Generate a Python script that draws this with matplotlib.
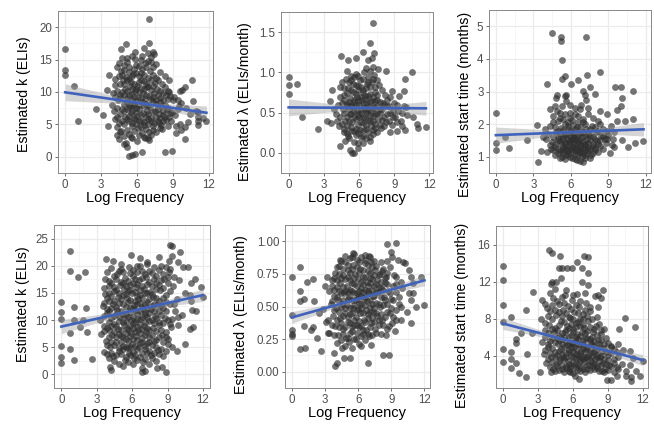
import numpy as np
import matplotlib
matplotlib.use("Agg")
import matplotlib.pyplot as plt

plt.rcParams["font.family"] = ["Liberation Sans", "DejaVu Sans"]

# (log frequency, estimate) pairs, one list per panel
K_TOP = [
    (0, 16.6), (0, 13.4), (0, 12.6), (0.7, 11.0), (1.1, 5.6), (2.6, 7.3), (3.2, 6.4), (3.5, 10.3),
    (3.6, 4.7), (3.7, 12.7), (7.0, 21.2), (7.0, 17.6), (5.1, 17.4), (4.7, 16.6), (5.8, 16.2),
    (7.3, 16.2), (7.4, 15.9), (5.2, 15.2), (6.4, 15.6), (4.5, 14.4), (7.2, 14.7), (5.3, 0.2),
    (5.6, 0.3), (5.8, 0.4), (6.4, 0.8), (8.3, 0.7), (8.9, 0.85), (4.9, 2.0), (5.1, 2.1), (5.2, 1.5),
    (4.5, 2.7), (5.6, 2.9), (6.9, 2.9), (7.0, 2.6), (6.4, 3.7), (8.1, 4.3), (7.3, 4.2), (10.6, 11.8),
    (10.0, 10.7), (9.8, 10.3), (9.6, 10.2), (8.7, 10.0), (10.7, 8.6), (11.1, 6.9), (11.1, 6.2),
    (11.1, 5.5), (11.1, 4.9), (11.8, 5.5), (10.0, 2.7), (9.3, 3.6), (9.7, 4.1), (10.0, 4.6),
    (10.3, 5.3), (9.6, 5.0), (9.3, 4.8), (9.0, 8.8), (9.4, 8.7), (9.7, 8.3), (9.4, 7.4), (8.9, 6.9),
    (8.6, 7.6), (8.2, 6.4), (8.7, 6.1), (8.4, 5.7), (7.8, 5.2),
    (4.6, 9.5), (4.8, 11.8), (4.9, 8.2), (5.0, 6.1), (5.0, 10.4), (5.1, 12.3), (5.2, 7.3), (5.2, 9.1),
    (5.3, 5.6), (5.3, 13.1), (5.4, 8.0), (5.4, 10.9), (5.5, 6.7), (5.5, 11.6), (5.6, 9.7), (5.6, 4.8),
    (5.7, 12.8), (5.7, 7.8), (5.8, 10.2), (5.8, 5.9), (5.9, 8.6), (5.9, 14.1), (6.0, 6.3), (6.0, 11.0),
    (6.1, 9.3), (6.1, 4.4), (6.2, 12.4), (6.2, 7.4), (6.3, 10.6), (6.3, 5.5), (6.4, 8.4), (6.4, 13.5),
    (6.5, 9.9), (6.5, 6.8), (6.6, 11.7), (6.6, 4.9), (6.7, 8.9), (6.7, 14.5), (6.8, 7.1), (6.8, 10.8),
    (6.9, 5.8), (6.9, 12.1), (7.0, 9.4), (7.0, 3.9), (7.1, 13.2), (7.1, 7.7), (7.2, 10.3), (7.2, 6.0),
    (7.3, 8.6), (7.3, 12.7), (7.4, 5.2), (7.4, 9.8), (7.5, 11.4), (7.5, 7.0), (7.6, 8.2), (7.7, 10.5),
    (7.8, 6.6), (7.9, 9.1), (8.0, 7.9), (8.1, 11.2), (8.2, 8.7), (8.4, 9.6), (8.5, 7.2), (8.6, 10.2),
    (3.9, 8.0), (4.0, 9.9), (4.1, 7.0), (4.2, 11.1), (4.3, 6.2), (4.4, 8.8), (4.5, 12.4), (4.5, 5.2),
    (4.3, 3.4), (4.7, 4.0), (4.7, 13.3), (4.9, 14.2), (5.5, 3.1), (6.0, 2.4), (5.8, 15.1), (6.7, 2.9),
    (6.3, 15.0), (6.9, 16.0), (7.6, 14.3), (7.9, 13.1), (8.3, 12.4), (8.0, 4.9), (8.8, 5.5), (9.1, 9.2),
    (9.2, 6.5), (8.7, 11.8), (9.5, 7.9), (10.1, 7.6), (10.4, 6.6), (10.9, 7.1), (11.5, 6.0),
]
# dense core of the same panel, as (x, [y, ...]) columns
K_TOP_CORE = [
    (4.15, [5.8, 9.2, 12.0]), (4.35, [4.6, 7.6, 10.1, 13.8]), (4.55, [3.8, 6.6, 9.0, 11.3]),
    (4.75, [5.6, 7.4, 10.0, 12.6, 15.2]), (4.95, [3.2, 5.0, 7.0, 9.6, 11.2, 13.4]),
    (5.15, [4.2, 5.9, 8.5, 10.1, 11.8, 14.6]), (5.35, [3.5, 6.3, 7.7, 9.5, 12.0, 13.9]),
    (5.55, [5.2, 7.1, 8.8, 10.4, 12.5, 15.5]), (5.75, [4.0, 6.0, 8.2, 9.3, 11.2, 13.6]),
    (5.95, [5.0, 6.9, 7.6, 10.5, 12.9]), (6.15, [3.3, 5.6, 8.0, 10.0, 11.5, 14.0]),
    (6.35, [4.6, 6.4, 9.0, 11.9, 13.0]), (6.55, [3.0, 5.3, 7.9, 10.4, 12.6, 16.8]),
    (6.75, [4.3, 6.2, 8.2, 9.6, 11.3, 13.9]), (6.95, [5.1, 6.6, 8.0, 10.9, 14.8]),
    (7.15, [3.4, 5.5, 8.9, 11.8, 15.4]), (7.35, [4.8, 6.9, 9.3, 10.9, 13.8]),
    (7.55, [3.9, 6.2, 8.8, 12.2]), (7.75, [5.5, 7.4, 9.5, 11.9]), (7.95, [4.4, 6.0, 8.4, 10.2]),
    (8.15, [5.6, 7.0, 9.8]), (8.35, [6.2, 8.0, 10.8]), (8.55, [4.8, 8.9]), (8.75, [6.7, 9.4]),
]

LAM_TOP = [
    (0, 0.94), (0, 0.84), (0, 0.73), (0.7, 0.85), (1.1, 0.44), (2.5, 0.30), (3.3, 0.39), (3.5, 0.65),
    (3.7, 0.78), (3.6, 0.37), (4.5, 1.20), (5.1, 1.15), (5.7, 1.18), (6.3, 1.25), (7.2, 1.61),
    (6.9, 1.37), (7.1, 1.18), (7.3, 1.24), (6.8, 1.15), (7.2, 1.07), (7.6, 1.04), (8.3, 1.02),
    (10.5, 1.01), (9.9, 0.92), (9.8, 0.77), (9.4, 0.71), (8.8, 0.77), (8.6, 0.69), (10.0, 0.57),
    (10.6, 0.44), (10.9, 0.36), (11.0, 0.31), (11.7, 0.32), (9.9, 0.29), (9.2, 0.27), (8.6, 0.26),
    (4.4, 0.08), (4.8, 0.15), (5.2, 0.04), (5.4, 0.0), (5.6, 0.0), (5.9, 0.06), (6.3, 0.12),
    (6.9, 0.15), (6.3, 0.21), (5.1, 0.21), (4.7, 0.26), (7.2, 0.24),
    (4.6, 0.55), (4.7, 0.72), (4.8, 0.40), (4.9, 0.92), (5.0, 0.61), (5.0, 0.33), (5.1, 0.80),
    (5.2, 0.48), (5.2, 0.68), (5.3, 0.27), (5.3, 0.95), (5.4, 0.57), (5.4, 0.38), (5.5, 0.75),
    (5.5, 0.86), (5.6, 0.45), (5.6, 0.63), (5.7, 0.22), (5.7, 0.98), (5.8, 0.52), (5.8, 0.70),
    (5.9, 0.35), (5.9, 0.83), (6.0, 0.59), (6.0, 0.44), (6.1, 0.90), (6.1, 0.28), (6.2, 0.66),
    (6.2, 0.50), (6.3, 0.78), (6.3, 0.37), (6.4, 0.56), (6.4, 1.00), (6.5, 0.43), (6.5, 0.71),
    (6.6, 0.62), (6.6, 0.30), (6.7, 0.85), (6.7, 0.49), (6.8, 0.58), (6.8, 0.94), (6.9, 0.40),
    (6.9, 0.73), (7.0, 0.53), (7.0, 0.33), (7.1, 0.88), (7.1, 0.64), (7.2, 0.46), (7.3, 0.97),
    (7.3, 0.57), (7.4, 0.36), (7.4, 0.75), (7.5, 0.50), (7.5, 0.66), (7.6, 0.42), (7.7, 0.84),
    (7.8, 0.55), (7.9, 0.31), (8.0, 0.62), (8.1, 0.45), (8.2, 0.72), (8.3, 0.38), (8.4, 0.58),
    (8.6, 0.50), (8.8, 0.35), (9.0, 0.62), (9.1, 0.44), (9.3, 0.52), (9.6, 0.40), (9.8, 0.58),
    (10.1, 0.47), (4.2, 0.60), (4.0, 0.48), (4.3, 0.33), (4.4, 0.82), (3.9, 0.55), (4.1, 0.40),
]
LAM_TOP_CORE = [
    (4.35, [0.45, 0.70]), (4.55, [0.36, 0.62, 0.88]), (4.75, [0.30, 0.50, 0.66, 0.80]),
    (4.95, [0.25, 0.45, 0.58, 0.74, 1.02]), (5.15, [0.18, 0.40, 0.54, 0.63, 0.88]),
    (5.35, [0.32, 0.48, 0.60, 0.78, 0.90]), (5.55, [0.14, 0.27, 0.52, 0.66, 0.94]),
    (5.75, [0.30, 0.42, 0.60, 0.73, 0.84]), (5.95, [0.12, 0.25, 0.47, 0.66, 0.78, 0.96]),
    (6.15, [0.20, 0.38, 0.53, 0.70, 0.82]), (6.35, [0.28, 0.45, 0.62, 0.74, 0.92]),
    (6.55, [0.18, 0.35, 0.52, 0.67, 0.80, 1.05]), (6.75, [0.26, 0.41, 0.55, 0.71, 0.88]),
    (6.95, [0.20, 0.47, 0.63, 0.82, 1.02]), (7.15, [0.28, 0.40, 0.56, 0.69, 0.92]),
    (7.35, [0.31, 0.48, 0.65, 0.82]), (7.55, [0.26, 0.58, 0.72, 0.90]), (7.75, [0.35, 0.49, 0.63]),
    (7.95, [0.41, 0.55, 0.78]), (8.15, [0.33, 0.60]), (8.35, [0.48, 0.66]), (8.55, [0.40, 0.58]),
    (8.85, [0.45, 0.52]), (9.25, [0.38, 0.60]), (9.65, [0.33, 0.49]),
]

START_TOP = [
    (0, 2.34), (0, 1.41), (0, 1.21), (0.7, 1.61), (1.07, 1.28), (2.5, 1.52), (3.3, 1.96), (3.4, 0.83),
    (3.6, 1.19), (4.1, 1.14), (4.1, 3.23), (4.5, 4.80), (5.2, 4.66), (5.2, 4.55), (5.3, 3.97),
    (5.5, 3.48), (5.3, 3.39), (4.9, 2.90), (4.8, 2.79), (5.6, 2.90), (6.0, 3.23), (6.6, 3.35),
    (7.3, 3.52), (7.2, 4.66), (8.3, 3.61), (7.5, 3.14), (7.0, 3.03), (7.9, 2.93), (9.5, 3.14),
    (10.0, 3.14), (10.1, 2.81), (10.0, 2.54), (9.7, 2.42), (11.0, 3.03), (11.0, 2.16), (11.8, 1.47),
    (11.1, 1.41), (10.6, 1.29), (10.1, 1.52), (9.4, 1.54), (9.1, 1.12), (8.7, 1.55), (8.9, 2.30),
    (8.3, 2.39), (9.7, 2.09), (10.3, 2.11),
    (4.5, 1.45), (4.6, 2.05), (4.7, 1.30), (4.8, 1.75), (4.9, 2.40), (5.0, 1.10), (5.0, 1.58),
    (5.1, 2.20), (5.2, 1.38), (5.2, 1.88), (5.3, 0.98), (5.3, 2.55), (5.4, 1.62), (5.4, 1.22),
    (5.5, 2.00), (5.5, 1.45), (5.6, 1.05), (5.6, 2.70), (5.7, 1.70), (5.7, 1.33), (5.8, 1.95),
    (5.8, 1.15), (5.9, 2.35), (5.9, 1.52), (6.0, 1.25), (6.0, 1.80), (6.1, 0.95), (6.1, 2.12),
    (6.2, 1.42), (6.2, 1.65), (6.3, 1.08), (6.3, 2.48), (6.4, 1.55), (6.4, 1.28), (6.5, 1.90),
    (6.5, 0.90), (6.6, 1.48), (6.6, 2.25), (6.7, 1.18), (6.7, 1.72), (6.8, 1.35), (6.8, 2.60),
    (6.9, 1.02), (6.9, 1.60), (7.0, 0.85), (7.0, 2.05), (7.1, 1.40), (7.1, 1.22), (7.2, 1.85),
    (7.2, 2.75), (7.3, 1.12), (7.3, 1.55), (7.4, 2.30), (7.4, 1.30), (7.5, 1.68), (7.6, 1.05),
    (7.7, 1.95), (7.8, 1.40), (7.9, 1.20), (8.0, 1.75), (8.1, 1.48), (8.2, 2.10), (8.3, 1.32),
    (8.4, 1.62), (8.6, 1.85), (8.8, 1.42), (9.0, 1.68), (9.2, 1.95), (9.3, 1.35), (4.2, 1.70),
    (4.0, 1.55), (4.3, 2.45), (3.9, 1.85), (4.4, 1.25), (3.8, 1.60),
]
START_TOP_CORE = [
    (4.35, [1.35, 1.95]), (4.55, [1.20, 1.60, 2.25]), (4.75, [1.05, 1.40, 1.90, 2.55]),
    (4.95, [1.25, 1.50, 1.78, 2.10]), (5.15, [0.95, 1.18, 1.48, 1.70, 2.35]),
    (5.35, [1.12, 1.30, 1.55, 1.82, 2.15]), (5.55, [0.92, 1.25, 1.40, 1.66, 2.30, 2.85]),
    (5.75, [1.08, 1.22, 1.50, 1.85, 2.05]), (5.95, [0.98, 1.32, 1.45, 1.62, 2.20, 2.60]),
    (6.15, [1.15, 1.30, 1.55, 1.72, 1.98]), (6.35, [0.92, 1.20, 1.38, 1.60, 1.85, 2.30]),
    (6.55, [1.05, 1.25, 1.42, 1.68, 2.05]), (6.75, [0.88, 1.10, 1.30, 1.52, 1.90, 2.45]),
    (6.95, [1.15, 1.28, 1.45, 1.75, 2.15]), (7.15, [0.95, 1.05, 1.35, 1.62, 2.00, 2.90]),
    (7.35, [1.20, 1.42, 1.70, 2.50]), (7.55, [0.95, 1.25, 1.50, 1.85]),
    (7.75, [1.10, 1.32, 1.60, 2.20]), (7.95, [1.28, 1.55, 1.90]), (8.15, [1.15, 1.40, 1.80]),
    (8.35, [1.50, 2.00]), (8.55, [1.25, 1.62]), (8.85, [1.55, 1.78]), (9.45, [1.30, 1.75]),
]

K_BOT = [
    (0, 13.3), (0, 11.5), (0, 10.2), (0, 5.3), (0, 3.2), (0, 2.1), (0.7, 22.8), (0.7, 19.1), (0.7, 7.7),
    (0.7, 4.7), (1.1, 10.1), (1.1, 12.4), (1.1, 2.7), (1.4, 18.0), (2.0, 18.8), (2.1, 12.2), (2.2, 7.8),
    (1.8, 10.1), (1.6, 8.8), (2.6, 2.8), (3.3, 10.1), (3.4, 7.5), (3.8, 21.2), (4.4, 20.9), (4.0, 16.2),
    (3.7, 17.5), (4.1, 1.3), (4.2, 0.9), (3.9, 3.8), (6.8, 0.5), (7.1, 0.6), (8.1, 1.2), (8.9, 0.5),
    (8.5, 1.4), (5.9, 21.9), (6.7, 21.4), (8.3, 21.7), (9.2, 23.9), (9.4, 23.7), (10.1, 22.5),
    (9.4, 21.8), (9.1, 20.9), (9.9, 20.7), (10.3, 19.8), (10.7, 19.8), (11.0, 16.9), (11.3, 17.5),
    (10.9, 14.7), (11.0, 13.5), (11.1, 11.9), (11.4, 11.7), (11.2, 8.8), (10.9, 8.4), (11.8, 16.0),
    (12.0, 14.3), (9.9, 9.1), (9.9, 10.5), (9.4, 10.2), (8.9, 6.9), (9.8, 4.3), (9.4, 5.1), (10.5, 5.6),
    (3.5, 12.5), (3.6, 9.0), (3.7, 14.8), (3.8, 6.2), (3.9, 11.3), (4.0, 8.1), (4.0, 13.6), (4.1, 5.0),
    (4.2, 16.9), (4.2, 10.4), (4.3, 7.2), (4.4, 12.9), (4.4, 3.3), (4.5, 15.3), (4.5, 9.3), (4.6, 6.0),
    (4.7, 18.4), (4.7, 11.8), (4.8, 8.4), (4.8, 14.2), (4.9, 4.4), (5.0, 16.4), (5.0, 10.6), (5.1, 7.0),
    (5.1, 19.4), (5.2, 12.9), (5.2, 5.3), (5.3, 15.7), (5.3, 9.1), (5.4, 2.6), (5.4, 17.8), (5.5, 11.0),
    (5.5, 6.5), (5.6, 14.0), (5.6, 8.6), (5.7, 19.8), (5.7, 3.9), (5.8, 12.2), (5.8, 16.5), (5.9, 7.6),
    (5.9, 10.0), (6.0, 5.6), (6.0, 14.9), (6.1, 18.1), (6.1, 9.4), (6.2, 12.7), (6.2, 3.0), (6.3, 7.1),
    (6.3, 16.0), (6.4, 11.3), (6.4, 20.0), (6.5, 8.2), (6.5, 13.8), (6.6, 5.0), (6.6, 17.3), (6.7, 10.2),
    (6.7, 14.6), (6.8, 6.7), (6.8, 19.0), (6.9, 12.1), (6.9, 2.2), (7.0, 9.0), (7.0, 15.8), (7.1, 4.6),
    (7.1, 11.4), (7.2, 17.9), (7.2, 7.8), (7.3, 13.3), (7.3, 20.4), (7.4, 9.9), (7.4, 5.9), (7.5, 15.1),
    (7.6, 12.0), (7.6, 3.6), (7.7, 18.6), (7.8, 8.5), (7.8, 14.3), (7.9, 10.8), (8.0, 6.4), (8.0, 16.9),
    (8.1, 12.8), (8.2, 4.5), (8.3, 19.3), (8.3, 9.6), (8.4, 15.5), (8.5, 7.3), (8.6, 12.3), (8.7, 17.6),
    (8.8, 10.4), (8.9, 14.6), (9.0, 5.6), (9.1, 18.8), (9.2, 12.9), (9.3, 8.8), (9.5, 16.2), (9.6, 11.6),
    (9.8, 13.9), (10.0, 17.4), (10.2, 11.0), (10.5, 15.0),
]
K_BOT_CORE = [
    (3.65, [4.2, 7.9, 10.8, 13.1, 15.9]), (3.85, [5.4, 8.6, 12.0, 14.1, 18.8]),
    (4.05, [3.0, 6.8, 9.6, 11.6, 15.0, 17.2]), (4.25, [4.0, 6.0, 8.9, 12.3, 14.4, 19.6]),
    (4.45, [2.4, 5.5, 7.8, 10.8, 13.6, 16.1, 18.2]), (4.65, [3.6, 6.9, 8.9, 11.1, 12.4, 15.6, 17.6]),
    (4.85, [2.0, 4.8, 7.4, 9.9, 13.1, 15.0, 19.0]), (5.05, [3.8, 5.9, 8.1, 11.7, 13.9, 17.1, 20.3]),
    (5.25, [1.6, 4.6, 6.9, 9.6, 10.9, 14.6, 16.9, 18.9]), (5.45, [3.2, 5.1, 7.6, 9.9, 12.4, 14.8, 16.2]),
    (5.65, [2.2, 4.9, 6.2, 8.1, 10.6, 13.3, 15.3, 17.2]), (5.85, [3.5, 5.0, 7.1, 9.0, 11.4, 13.7, 15.6, 18.7]),
    (6.05, [1.9, 4.2, 6.6, 8.6, 10.6, 12.2, 16.9, 19.2]), (6.25, [3.6, 5.3, 7.8, 9.7, 11.8, 13.5, 15.1, 17.6]),
    (6.45, [2.6, 4.6, 6.4, 8.7, 10.2, 12.9, 14.5, 16.6, 18.8]),
    (6.65, [3.2, 5.7, 7.6, 9.2, 11.6, 13.1, 15.5, 19.9]),
    (6.85, [1.2, 4.0, 6.0, 8.3, 10.5, 12.4, 14.0, 16.2, 17.8]),
    (7.05, [2.8, 5.2, 7.2, 9.6, 10.9, 13.0, 14.9, 18.4]), (7.25, [3.9, 5.8, 8.6, 10.6, 12.2, 15.0, 16.7, 20.6]),
    (7.45, [2.0, 4.3, 6.8, 8.2, 11.3, 13.8, 17.0, 19.1]), (7.65, [3.0, 5.4, 7.3, 10.1, 12.6, 14.8, 16.3]),
    (7.85, [4.0, 6.1, 9.4, 11.7, 13.0, 17.5, 19.7]), (8.05, [2.5, 5.1, 8.0, 10.3, 14.0, 15.8, 18.2]),
    (8.25, [3.8, 6.9, 9.1, 11.6, 13.6, 16.4]), (8.45, [4.7, 8.2, 10.9, 12.7, 17.3, 20.0]),
    (8.65, [3.3, 6.0, 9.4, 14.1, 15.9, 18.5]), (8.85, [4.4, 7.8, 11.6, 13.3, 19.8]),
    (9.05, [6.6, 10.0, 16.8, 18.0]), (9.25, [9.3, 15.3, 19.4]), (9.55, [13.0, 17.9]),
]

LAM_BOT = [
    (0, 0.725), (0, 0.433), (0, 0.32), (0, 0.29), (0, 0.275), (0.7, 0.80), (0.7, 0.62), (0.7, 0.54),
    (0.7, 0.175), (1.1, 0.56), (1.1, 0.35), (1.15, 0.185), (1.4, 0.69), (1.9, 0.71), (2.0, 0.545),
    (1.9, 0.345), (1.7, 0.32), (2.3, 0.26), (2.65, 0.16), (2.5, 0.45), (3.2, 0.725), (3.25, 0.40),
    (3.4, 0.30), (3.8, 0.14), (3.9, 0.04), (4.1, 0.07), (4.5, 0.18), (4.75, 0.105), (5.3, 0.105),
    (5.2, 0.226), (6.3, 0.20), (6.9, 0.07), (7.2, 0.205), (8.25, 0.125), (8.8, 0.125), (8.6, 0.85),
    (8.6, 0.98), (9.4, 0.99), (9.0, 0.92), (9.1, 0.88), (9.6, 0.86), (10.1, 0.84), (10.2, 0.83),
    (10.6, 0.78), (10.8, 0.725), (11.7, 0.725), (11.0, 0.68), (11.0, 0.60), (10.6, 0.60), (10.8, 0.55),
    (11.2, 0.50), (12.0, 0.51), (10.4, 0.455), (9.9, 0.395), (10.8, 0.374), (9.4, 0.40), (9.1, 0.37),
    (9.3, 0.31), (8.5, 0.28), (9.0, 0.49), (9.7, 0.52), (9.7, 0.57), (10.0, 0.64), (9.4, 0.67),
    (9.2, 0.74), (8.5, 0.73), (8.2, 0.77), (7.0, 0.89), (6.6, 0.895), (5.5, 0.91), (5.4, 0.88),
    (4.4, 0.856),
    (3.4, 0.62), (3.5, 0.52), (3.6, 0.70), (3.7, 0.43), (3.8, 0.58), (3.9, 0.35), (3.9, 0.76),
    (4.0, 0.49), (4.1, 0.65), (4.2, 0.28), (4.2, 0.55), (4.3, 0.81), (4.4, 0.41), (4.4, 0.68),
    (4.5, 0.52), (4.6, 0.33), (4.6, 0.74), (4.7, 0.60), (4.8, 0.45), (4.8, 0.84), (4.9, 0.26),
    (5.0, 0.66), (5.0, 0.51), (5.1, 0.38), (5.1, 0.78), (5.2, 0.57), (5.3, 0.44), (5.3, 0.70),
    (5.4, 0.31), (5.4, 0.62), (5.5, 0.82), (5.5, 0.49), (5.6, 0.36), (5.6, 0.67), (5.7, 0.55),
    (5.7, 0.75), (5.8, 0.42), (5.8, 0.25), (5.9, 0.60), (5.9, 0.86), (6.0, 0.48), (6.0, 0.71),
    (6.1, 0.34), (6.1, 0.58), (6.2, 0.79), (6.2, 0.45), (6.3, 0.64), (6.3, 0.52), (6.4, 0.29),
    (6.4, 0.73), (6.5, 0.56), (6.5, 0.40), (6.6, 0.83), (6.6, 0.63), (6.7, 0.47), (6.7, 0.32),
    (6.8, 0.69), (6.8, 0.54), (6.9, 0.77), (6.9, 0.41), (7.0, 0.60), (7.0, 0.27), (7.1, 0.50),
    (7.1, 0.72), (7.2, 0.37), (7.2, 0.84), (7.3, 0.58), (7.3, 0.46), (7.4, 0.66), (7.5, 0.33),
    (7.5, 0.78), (7.6, 0.53), (7.7, 0.43), (7.7, 0.70), (7.8, 0.61), (7.9, 0.36), (8.0, 0.75),
    (8.0, 0.50), (8.1, 0.64), (8.2, 0.40), (8.3, 0.57), (8.4, 0.68), (8.6, 0.46), (8.7, 0.62),
    (8.8, 0.35), (9.0, 0.56), (2.8, 0.48), (3.0, 0.66), (3.1, 0.38), (3.3, 0.30),
]
LAM_BOT_CORE = [
    (3.65, [0.36, 0.54, 0.66]), (3.85, [0.28, 0.47, 0.63, 0.72]), (4.05, [0.22, 0.40, 0.57, 0.70, 0.80]),
    (4.25, [0.34, 0.46, 0.62, 0.75]), (4.45, [0.24, 0.37, 0.50, 0.60, 0.72, 0.85]),
    (4.65, [0.29, 0.43, 0.55, 0.65, 0.79]), (4.85, [0.20, 0.34, 0.49, 0.62, 0.71, 0.89]),
    (5.05, [0.26, 0.42, 0.56, 0.61, 0.73, 0.82]), (5.25, [0.30, 0.37, 0.49, 0.63, 0.76, 0.87]),
    (5.45, [0.18, 0.34, 0.45, 0.55, 0.68, 0.79]), (5.65, [0.25, 0.40, 0.51, 0.60, 0.72, 0.90]),
    (5.85, [0.30, 0.36, 0.47, 0.56, 0.66, 0.80]), (6.05, [0.21, 0.39, 0.53, 0.62, 0.76, 0.84]),
    (6.25, [0.27, 0.35, 0.49, 0.58, 0.69, 0.88]), (6.45, [0.32, 0.45, 0.61, 0.67, 0.78]),
    (6.65, [0.24, 0.38, 0.51, 0.57, 0.73, 0.86]), (6.85, [0.29, 0.44, 0.62, 0.66, 0.82]),
    (7.05, [0.34, 0.46, 0.55, 0.68, 0.76, 0.88]), (7.25, [0.28, 0.41, 0.52, 0.63, 0.71, 0.80]),
    (7.45, [0.38, 0.49, 0.58, 0.74, 0.85]), (7.65, [0.30, 0.45, 0.61, 0.67, 0.81]),
    (7.85, [0.40, 0.52, 0.65, 0.74]), (8.05, [0.29, 0.44, 0.57, 0.69, 0.84]),
    (8.25, [0.36, 0.51, 0.63, 0.79]), (8.45, [0.42, 0.55, 0.72]), (8.65, [0.33, 0.52, 0.67, 0.76]),
    (8.85, [0.45, 0.60, 0.80]), (9.15, [0.42, 0.55, 0.66]), (9.45, [0.47, 0.61, 0.73]),
    (9.85, [0.50, 0.69]),
]

START_BOT = [
    (0, 13.7), (0, 12.2), (0, 9.5), (0, 7.6), (0, 4.7), (0, 3.3), (0.7, 8.2), (0.7, 4.4), (0.7, 3.6),
    (0.7, 2.7), (1.1, 5.75), (1.1, 5.4), (1.1, 3.2), (1.4, 2.1), (2.0, 8.9), (2.0, 1.7), (2.1, 4.2),
    (1.6, 6.4), (2.6, 10.9), (2.5, 6.4), (3.2, 2.2), (3.4, 10.0), (4.1, 2.2), (4.0, 15.4), (4.2, 15.1),
    (4.9, 14.8), (4.8, 13.5), (5.1, 13.5), (5.5, 13.5), (5.0, 12.4), (5.9, 13.5), (6.4, 14.1),
    (6.8, 13.5), (7.0, 14.8), (7.3, 14.6), (7.3, 12.9), (6.8, 11.9), (7.3, 11.6), (4.2, 11.9),
    (4.1, 11.7), (4.6, 11.9), (6.4, 10.7), (7.9, 10.4), (8.2, 10.5), (8.6, 11.1), (8.4, 10.2),
    (8.2, 9.3), (10.0, 6.9), (10.5, 8.1), (11.3, 7.1), (10.3, 4.6), (10.9, 4.5), (10.9, 3.0),
    (10.6, 2.3), (10.6, 1.8), (11.0, 1.3), (11.0, 1.7), (11.4, 2.3), (11.8, 1.8), (12.0, 3.4),
    (11.2, 3.7), (9.8, 2.8), (9.8, 1.8), (9.5, 2.2), (9.3, 1.4), (8.9, 1.4), (8.5, 2.3), (6.5, 1.5),
    (6.2, 1.8), (5.8, 2.2),
    (3.3, 8.0), (3.4, 5.5), (3.5, 4.2), (3.6, 6.8), (3.7, 3.2), (3.8, 9.1), (3.9, 4.9), (4.0, 7.3),
    (4.1, 3.8), (4.2, 5.9), (4.3, 10.2), (4.3, 2.6), (4.4, 6.6), (4.5, 4.4), (4.6, 8.4), (4.6, 3.1),
    (4.7, 5.3), (4.8, 9.6), (4.8, 6.1), (4.9, 3.6), (5.0, 7.7), (5.0, 4.7), (5.1, 2.5), (5.1, 5.8),
    (5.2, 8.9), (5.2, 3.9), (5.3, 6.5), (5.3, 10.5), (5.4, 4.3), (5.4, 2.9), (5.5, 7.2), (5.5, 5.1),
    (5.6, 9.4), (5.6, 3.4), (5.7, 6.0), (5.7, 4.6), (5.8, 8.1), (5.8, 2.7), (5.9, 5.4), (5.9, 10.0),
    (6.0, 3.8), (6.0, 6.9), (6.1, 4.9), (6.1, 8.7), (6.2, 3.1), (6.2, 5.7), (6.3, 7.5), (6.3, 4.2),
    (6.4, 2.4), (6.4, 6.3), (6.5, 9.2), (6.5, 3.6), (6.6, 5.1), (6.6, 7.9), (6.7, 4.5), (6.7, 2.8),
    (6.8, 6.6), (6.8, 3.9), (6.9, 8.5), (6.9, 5.3), (7.0, 3.3), (7.0, 7.0), (7.1, 4.7), (7.1, 9.7),
    (7.2, 2.6), (7.2, 5.9), (7.3, 4.0), (7.3, 7.7), (7.4, 3.0), (7.5, 5.5), (7.5, 8.8), (7.6, 4.3),
    (7.7, 6.5), (7.7, 2.9), (7.8, 5.0), (7.9, 3.6), (8.0, 7.2), (8.0, 4.6), (8.1, 2.7), (8.2, 5.7),
    (8.3, 3.9), (8.4, 6.8), (8.5, 4.5), (8.6, 3.2), (8.7, 5.3), (8.8, 2.5), (9.0, 4.1), (9.1, 3.0),
    (9.3, 5.0), (9.5, 3.6), (9.8, 4.4), (10.2, 3.1),
]
START_BOT_CORE = [
    (3.65, [4.6, 6.0, 7.5, 9.6]), (3.85, [3.6, 5.2, 6.4, 8.3]), (4.05, [2.8, 4.3, 5.6, 8.8, 10.8]),
    (4.25, [3.3, 4.8, 6.9, 7.9, 9.5]), (4.45, [2.3, 3.8, 5.5, 7.0, 8.9, 11.2]),
    (4.65, [2.9, 4.1, 5.9, 6.8, 9.9]), (4.85, [2.4, 3.4, 4.5, 5.7, 7.3, 8.7]),
    (5.05, [3.0, 4.2, 5.2, 6.4, 8.3, 10.3]), (5.25, [2.2, 3.6, 4.9, 6.0, 7.6, 9.7]),
    (5.45, [2.7, 3.9, 5.6, 6.8, 8.6, 11.1]), (5.65, [2.3, 3.1, 4.4, 5.3, 7.0, 8.2]),
    (5.85, [2.9, 4.0, 4.9, 6.2, 7.4, 9.0]), (6.05, [2.1, 3.3, 4.4, 5.4, 6.5, 8.0, 10.6]),
    (6.25, [2.8, 3.7, 4.7, 6.0, 7.1, 9.5]), (6.45, [3.0, 4.1, 5.3, 5.8, 7.6, 8.6]),
    (6.65, [2.3, 3.4, 4.3, 6.1, 7.2, 9.9]), (6.85, [2.6, 3.6, 4.8, 5.6, 7.3, 8.0]),
    (7.05, [2.2, 3.9, 4.4, 5.9, 6.4, 8.9, 10.8]), (7.25, [3.0, 3.7, 4.9, 6.7, 8.3]),
    (7.45, [2.4, 3.5, 4.6, 5.8, 7.1, 9.3]), (7.65, [3.3, 4.0, 5.3, 6.0, 7.9]),
    (7.85, [2.5, 3.1, 4.4, 5.6, 6.9]), (8.05, [2.9, 3.8, 4.1, 6.2, 8.2]),
    (8.25, [2.3, 3.4, 4.9, 5.2, 7.4]), (8.45, [3.0, 4.0, 5.7, 6.3]), (8.65, [2.2, 3.6, 4.8, 6.9]),
    (8.85, [3.1, 4.4, 5.9]), (9.05, [2.4, 3.5, 5.4]), (9.25, [2.9, 4.3, 4.9]), (9.55, [3.2, 4.7]),
    (9.85, [2.6, 3.9, 5.2]),
]

# linear fit: value at x=0, slope, CI half-width at x=0 and at the centre
FIT_AT_ZERO = [9.95, 0.565, 1.66, 8.8, 0.416, 7.47]
FIT_SLOPE = [-0.267, -0.001, 0.0153, 0.483, 0.0237, -0.329]
CI_AT_ZERO = [1.3, 0.105, 0.25, 1.3, 0.045, 0.65]
CI_CENTRE = [0.35, 0.025, 0.06, 0.35, 0.012, 0.18]

Y_LABELS = ["Estimated k (ELIs)", "Estimated \u03bb (ELIs/month)", "Estimated start time (months)"] * 2
Y_TICKS = [[0, 5, 10, 15, 20], [0.0, 0.5, 1.0, 1.5], [1, 2, 3, 4, 5],
           [0, 5, 10, 15, 20, 25], [0.0, 0.25, 0.5, 0.75, 1.0], [4, 8, 12, 16]]
Y_TICKLABELS = [["0", "5", "10", "15", "20"], ["0.0", "0.5", "1.0", "1.5"], ["1", "2", "3", "4", "5"],
                ["0", "5", "10", "15", "20", "25"], ["0.00", "0.25", "0.50", "0.75", "1.00"],
                ["4", "8", "12", "16"]]
Y_LIMS = [(-1.0, 22.2), (-0.085, 1.68), (0.6, 5.0), (-0.8, 25.1), (-0.01, 1.04), (0.5, 16.1)]
X_LIMS = [(-0.6, 12.35), (-0.65, 12.3), (-0.55, 12.4), (-0.62, 12.6), (-0.62, 12.5), (-0.58, 12.45)]
X_TICKS = [0, 3, 6, 9, 12]

DATA = [(K_TOP, K_TOP_CORE), (LAM_TOP, LAM_TOP_CORE), (START_TOP, START_TOP_CORE),
        (K_BOT, K_BOT_CORE), (LAM_BOT, LAM_BOT_CORE), (START_BOT, START_BOT_CORE)]

# axes boxes in pixels: left, right, top, bottom
BOXES = [(58, 213, 11, 173), (281, 433, 12, 173), (489, 651, 10, 173),
         (54, 210, 225, 388), (285, 430, 225, 388), (496, 648, 226, 388)]
# y-label placement in pixels: right edge x, centre y
YLAB_POS = [(31, 94), (252, 102), (472, 104), (30, 304), (248, 315), (469, 315)]

W, H = 654, 430
fig = plt.figure(figsize=(W / 100, H / 100), dpi=100)

for i in range(6):
    l, r, t, b = BOXES[i]
    ax = fig.add_axes([l / W, 1 - b / H, (r - l) / W, (b - t) / H])
    pts, core = DATA[i]
    x = [p[0] for p in pts] + [cx for cx, ys in core for _ in ys]
    y = [p[1] for p in pts] + [v for _, ys in core for v in ys]
    x, y = np.array(x), np.array(y)

    ax.scatter(x, y, s=24, color="#2e2e2e", alpha=0.66, linewidths=0, zorder=3)

    xs = np.linspace(x.min(), x.max(), 100)
    xm = x.mean()
    fit = FIT_AT_ZERO[i] + FIT_SLOPE[i] * xs
    c = (CI_AT_ZERO[i] ** 2 - CI_CENTRE[i] ** 2) / xm ** 2
    hw = np.sqrt(CI_CENTRE[i] ** 2 + c * (xs - xm) ** 2)
    ax.fill_between(xs, fit - hw, fit + hw, color="#999999", alpha=0.4, lw=0, zorder=4)
    ax.plot(xs, fit, color="#3f63bd", lw=1.9, zorder=5)

    ax.set_xlim(*X_LIMS[i])
    ax.set_ylim(*Y_LIMS[i])
    ax.set_xticks(X_TICKS)
    ax.set_yticks(Y_TICKS[i])
    ax.set_yticklabels(Y_TICKLABELS[i])
    yt = Y_TICKS[i]
    step = yt[1] - yt[0]
    ax.set_xticks([1.5, 4.5, 7.5, 10.5], minor=True)
    ax.set_yticks([v + step / 2 for v in [yt[0] - step] + yt], minor=True)
    ax.grid(which="major", color="#ebebeb", lw=0.9, zorder=0)
    ax.grid(which="minor", color="#f3f3f3", lw=0.5, zorder=0)
    ax.tick_params(which="minor", length=0)
    ax.tick_params(which="major", length=2.5, width=0.6, color="#555555",
                   labelsize=8.3, labelcolor="#4d4d4d", pad=1.5)
    for sp in ax.spines.values():
        sp.set_color("#888888")
        sp.set_linewidth(0.7)
    ax.set_xlabel("Log Frequency", fontsize=10.5, labelpad=0.5)
    ax.set_ylabel(Y_LABELS[i], fontsize=10.2)
    lx, ly = YLAB_POS[i]
    ax.yaxis.set_label_coords((lx - l) / (r - l), (b - ly) / (b - t))

fig.savefig("out.png", dpi=100)
